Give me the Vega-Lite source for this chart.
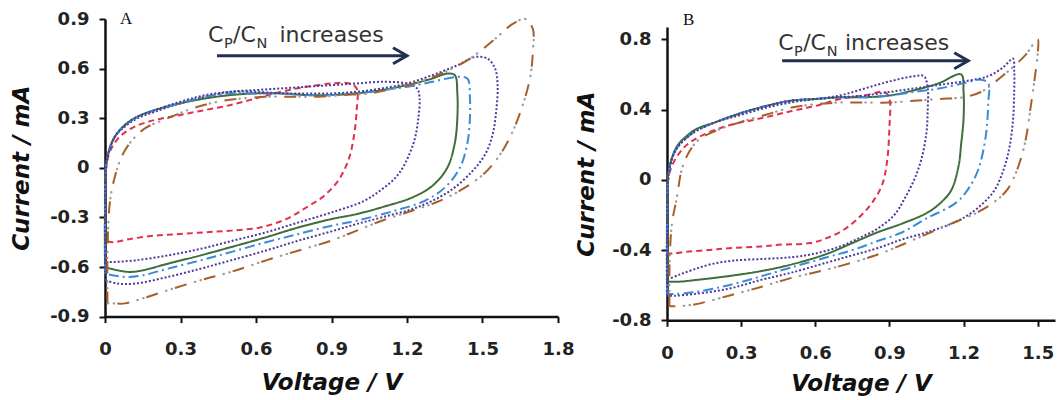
{
"$schema": "https://vega.github.io/schema/vega-lite/v6.json",
"background": "white",
"padding": {"left": 10, "top": 9, "right": 2, "bottom": 2},
"spacing": 1,
"config": {
  "view": {"stroke": null},
  "axis": {"grid": false, "domainColor": "#111", "domainWidth": 2.5, "tickColor": "#111", "tickWidth": 2, "tickSize": 6,
    "labelFont": "DejaVu Sans", "labelFontWeight": "bold", "labelFontSize": 18, "labelColor": "#222", "labelFlush": false, "labelOverlap": false,
    "titleFont": "DejaVu Sans", "titleFontWeight": "bold", "titleFontStyle": "italic", "titleFontSize": 23, "titleColor": "#111"},
  "axisX": {"labelPadding": 18, "titlePadding": 13},
  "axisY": {"labelPadding": 10, "titlePadding": 16}
},
"datasets": {
"curves": [
{"p":"A","s":"r","o":1,"v":0,"i":-0.44},{"p":"A","s":"r","o":2,"v":0,"i":-0.2},{"p":"A","s":"r","o":3,"v":0.005,"i":0},{"p":"A","s":"r","o":4,"v":0.02,"i":0.1},{"p":"A","s":"r","o":5,"v":0.06,"i":0.19},{"p":"A","s":"r","o":6,"v":0.12,"i":0.25},{"p":"A","s":"r","o":7,"v":0.2,"i":0.29},{"p":"A","s":"r","o":8,"v":0.3,"i":0.32},{"p":"A","s":"r","o":9,"v":0.4,"i":0.35},{"p":"A","s":"r","o":10,"v":0.5,"i":0.38},{"p":"A","s":"r","o":11,"v":0.6,"i":0.42},{"p":"A","s":"r","o":12,"v":0.7,"i":0.46},{"p":"A","s":"r","o":13,"v":0.8,"i":0.49},{"p":"A","s":"r","o":14,"v":0.9,"i":0.51},{"p":"A","s":"r","o":15,"v":0.97,"i":0.51},{"p":"A","s":"r","o":16,"v":1.0,"i":0.48},{"p":"A","s":"r","o":17,"v":1.0,"i":0.35},{"p":"A","s":"r","o":18,"v":0.99,"i":0.2},{"p":"A","s":"r","o":19,"v":0.97,"i":0.06},{"p":"A","s":"r","o":20,"v":0.93,"i":-0.07},{"p":"A","s":"r","o":21,"v":0.87,"i":-0.17},{"p":"A","s":"r","o":22,"v":0.8,"i":-0.24},{"p":"A","s":"r","o":23,"v":0.72,"i":-0.31},{"p":"A","s":"r","o":24,"v":0.62,"i":-0.36},{"p":"A","s":"r","o":25,"v":0.5,"i":-0.38},{"p":"A","s":"r","o":26,"v":0.4,"i":-0.39},{"p":"A","s":"r","o":27,"v":0.3,"i":-0.4},{"p":"A","s":"r","o":28,"v":0.2,"i":-0.41},{"p":"A","s":"r","o":29,"v":0.1,"i":-0.43},{"p":"A","s":"r","o":30,"v":0.03,"i":-0.45},{"p":"A","s":"r","o":31,"v":0,"i":-0.44},
{"p":"A","s":"p1","o":1,"v":0,"i":-0.57},{"p":"A","s":"p1","o":2,"v":0,"i":-0.3},{"p":"A","s":"p1","o":3,"v":0.003,"i":0},{"p":"A","s":"p1","o":4,"v":0.015,"i":0.1},{"p":"A","s":"p1","o":5,"v":0.04,"i":0.19},{"p":"A","s":"p1","o":6,"v":0.08,"i":0.25},{"p":"A","s":"p1","o":7,"v":0.13,"i":0.3},{"p":"A","s":"p1","o":8,"v":0.2,"i":0.34},{"p":"A","s":"p1","o":9,"v":0.3,"i":0.39},{"p":"A","s":"p1","o":10,"v":0.4,"i":0.43},{"p":"A","s":"p1","o":11,"v":0.5,"i":0.46},{"p":"A","s":"p1","o":12,"v":0.6,"i":0.47},{"p":"A","s":"p1","o":13,"v":0.7,"i":0.48},{"p":"A","s":"p1","o":14,"v":0.8,"i":0.49},{"p":"A","s":"p1","o":15,"v":0.9,"i":0.5},{"p":"A","s":"p1","o":16,"v":1.0,"i":0.51},{"p":"A","s":"p1","o":17,"v":1.1,"i":0.52},{"p":"A","s":"p1","o":18,"v":1.2,"i":0.51},{"p":"A","s":"p1","o":19,"v":1.24,"i":0.48},{"p":"A","s":"p1","o":20,"v":1.25,"i":0.42},{"p":"A","s":"p1","o":21,"v":1.245,"i":0.3},{"p":"A","s":"p1","o":22,"v":1.23,"i":0.17},{"p":"A","s":"p1","o":23,"v":1.2,"i":0.05},{"p":"A","s":"p1","o":24,"v":1.16,"i":-0.05},{"p":"A","s":"p1","o":25,"v":1.1,"i":-0.13},{"p":"A","s":"p1","o":26,"v":1.03,"i":-0.2},{"p":"A","s":"p1","o":27,"v":0.9,"i":-0.27},{"p":"A","s":"p1","o":28,"v":0.77,"i":-0.33},{"p":"A","s":"p1","o":29,"v":0.64,"i":-0.39},{"p":"A","s":"p1","o":30,"v":0.51,"i":-0.44},{"p":"A","s":"p1","o":31,"v":0.38,"i":-0.49},{"p":"A","s":"p1","o":32,"v":0.25,"i":-0.53},{"p":"A","s":"p1","o":33,"v":0.12,"i":-0.56},{"p":"A","s":"p1","o":34,"v":0.03,"i":-0.57},{"p":"A","s":"p1","o":35,"v":0,"i":-0.57},
{"p":"A","s":"g","o":1,"v":0,"i":-0.6},{"p":"A","s":"g","o":2,"v":0,"i":-0.3},{"p":"A","s":"g","o":3,"v":0.003,"i":0},{"p":"A","s":"g","o":4,"v":0.015,"i":0.1},{"p":"A","s":"g","o":5,"v":0.04,"i":0.19},{"p":"A","s":"g","o":6,"v":0.08,"i":0.26},{"p":"A","s":"g","o":7,"v":0.13,"i":0.31},{"p":"A","s":"g","o":8,"v":0.2,"i":0.35},{"p":"A","s":"g","o":9,"v":0.3,"i":0.39},{"p":"A","s":"g","o":10,"v":0.4,"i":0.42},{"p":"A","s":"g","o":11,"v":0.5,"i":0.44},{"p":"A","s":"g","o":12,"v":0.6,"i":0.45},{"p":"A","s":"g","o":13,"v":0.7,"i":0.45},{"p":"A","s":"g","o":14,"v":0.8,"i":0.44},{"p":"A","s":"g","o":15,"v":0.9,"i":0.44},{"p":"A","s":"g","o":16,"v":1.0,"i":0.45},{"p":"A","s":"g","o":17,"v":1.1,"i":0.47},{"p":"A","s":"g","o":18,"v":1.2,"i":0.5},{"p":"A","s":"g","o":19,"v":1.3,"i":0.54},{"p":"A","s":"g","o":20,"v":1.36,"i":0.57},{"p":"A","s":"g","o":21,"v":1.39,"i":0.56},{"p":"A","s":"g","o":22,"v":1.4,"i":0.45},{"p":"A","s":"g","o":23,"v":1.4,"i":0.3},{"p":"A","s":"g","o":24,"v":1.39,"i":0.15},{"p":"A","s":"g","o":25,"v":1.36,"i":0},{"p":"A","s":"g","o":26,"v":1.3,"i":-0.11},{"p":"A","s":"g","o":27,"v":1.22,"i":-0.18},{"p":"A","s":"g","o":28,"v":1.12,"i":-0.23},{"p":"A","s":"g","o":29,"v":1.0,"i":-0.28},{"p":"A","s":"g","o":30,"v":0.9,"i":-0.31},{"p":"A","s":"g","o":31,"v":0.77,"i":-0.36},{"p":"A","s":"g","o":32,"v":0.64,"i":-0.42},{"p":"A","s":"g","o":33,"v":0.5,"i":-0.48},{"p":"A","s":"g","o":34,"v":0.38,"i":-0.53},{"p":"A","s":"g","o":35,"v":0.25,"i":-0.58},{"p":"A","s":"g","o":36,"v":0.15,"i":-0.62},{"p":"A","s":"g","o":37,"v":0.1,"i":-0.63},{"p":"A","s":"g","o":38,"v":0.05,"i":-0.62},{"p":"A","s":"g","o":39,"v":0,"i":-0.6},
{"p":"A","s":"b","o":1,"v":0,"i":-0.64},{"p":"A","s":"b","o":2,"v":0,"i":-0.3},{"p":"A","s":"b","o":3,"v":0.004,"i":0},{"p":"A","s":"b","o":4,"v":0.016,"i":0.1},{"p":"A","s":"b","o":5,"v":0.04,"i":0.19},{"p":"A","s":"b","o":6,"v":0.08,"i":0.26},{"p":"A","s":"b","o":7,"v":0.13,"i":0.31},{"p":"A","s":"b","o":8,"v":0.2,"i":0.35},{"p":"A","s":"b","o":9,"v":0.3,"i":0.39},{"p":"A","s":"b","o":10,"v":0.4,"i":0.43},{"p":"A","s":"b","o":11,"v":0.5,"i":0.45},{"p":"A","s":"b","o":12,"v":0.6,"i":0.45},{"p":"A","s":"b","o":13,"v":0.7,"i":0.45},{"p":"A","s":"b","o":14,"v":0.8,"i":0.44},{"p":"A","s":"b","o":15,"v":0.9,"i":0.44},{"p":"A","s":"b","o":16,"v":1.0,"i":0.45},{"p":"A","s":"b","o":17,"v":1.1,"i":0.47},{"p":"A","s":"b","o":18,"v":1.2,"i":0.49},{"p":"A","s":"b","o":19,"v":1.3,"i":0.52},{"p":"A","s":"b","o":20,"v":1.4,"i":0.55},{"p":"A","s":"b","o":21,"v":1.44,"i":0.54},{"p":"A","s":"b","o":22,"v":1.45,"i":0.42},{"p":"A","s":"b","o":23,"v":1.45,"i":0.3},{"p":"A","s":"b","o":24,"v":1.44,"i":0.15},{"p":"A","s":"b","o":25,"v":1.41,"i":0},{"p":"A","s":"b","o":26,"v":1.35,"i":-0.12},{"p":"A","s":"b","o":27,"v":1.27,"i":-0.2},{"p":"A","s":"b","o":28,"v":1.15,"i":-0.26},{"p":"A","s":"b","o":29,"v":1.0,"i":-0.32},{"p":"A","s":"b","o":30,"v":0.9,"i":-0.35},{"p":"A","s":"b","o":31,"v":0.77,"i":-0.4},{"p":"A","s":"b","o":32,"v":0.64,"i":-0.45},{"p":"A","s":"b","o":33,"v":0.5,"i":-0.51},{"p":"A","s":"b","o":34,"v":0.38,"i":-0.56},{"p":"A","s":"b","o":35,"v":0.25,"i":-0.61},{"p":"A","s":"b","o":36,"v":0.15,"i":-0.65},{"p":"A","s":"b","o":37,"v":0.08,"i":-0.66},{"p":"A","s":"b","o":38,"v":0.03,"i":-0.65},{"p":"A","s":"b","o":39,"v":0,"i":-0.64},
{"p":"A","s":"p2","o":1,"v":0,"i":-0.68},{"p":"A","s":"p2","o":2,"v":0,"i":-0.3},{"p":"A","s":"p2","o":3,"v":0.004,"i":0},{"p":"A","s":"p2","o":4,"v":0.016,"i":0.1},{"p":"A","s":"p2","o":5,"v":0.04,"i":0.19},{"p":"A","s":"p2","o":6,"v":0.08,"i":0.26},{"p":"A","s":"p2","o":7,"v":0.13,"i":0.31},{"p":"A","s":"p2","o":8,"v":0.2,"i":0.35},{"p":"A","s":"p2","o":9,"v":0.3,"i":0.4},{"p":"A","s":"p2","o":10,"v":0.4,"i":0.44},{"p":"A","s":"p2","o":11,"v":0.5,"i":0.46},{"p":"A","s":"p2","o":12,"v":0.6,"i":0.46},{"p":"A","s":"p2","o":13,"v":0.7,"i":0.45},{"p":"A","s":"p2","o":14,"v":0.8,"i":0.45},{"p":"A","s":"p2","o":15,"v":0.9,"i":0.45},{"p":"A","s":"p2","o":16,"v":1.0,"i":0.46},{"p":"A","s":"p2","o":17,"v":1.1,"i":0.48},{"p":"A","s":"p2","o":18,"v":1.2,"i":0.51},{"p":"A","s":"p2","o":19,"v":1.3,"i":0.56},{"p":"A","s":"p2","o":20,"v":1.4,"i":0.62},{"p":"A","s":"p2","o":21,"v":1.47,"i":0.67},{"p":"A","s":"p2","o":22,"v":1.52,"i":0.66},{"p":"A","s":"p2","o":23,"v":1.55,"i":0.6},{"p":"A","s":"p2","o":24,"v":1.56,"i":0.5},{"p":"A","s":"p2","o":25,"v":1.555,"i":0.35},{"p":"A","s":"p2","o":26,"v":1.54,"i":0.2},{"p":"A","s":"p2","o":27,"v":1.51,"i":0.08},{"p":"A","s":"p2","o":28,"v":1.46,"i":-0.02},{"p":"A","s":"p2","o":29,"v":1.38,"i":-0.13},{"p":"A","s":"p2","o":30,"v":1.3,"i":-0.2},{"p":"A","s":"p2","o":31,"v":1.22,"i":-0.25},{"p":"A","s":"p2","o":32,"v":1.1,"i":-0.3},{"p":"A","s":"p2","o":33,"v":1.0,"i":-0.34},{"p":"A","s":"p2","o":34,"v":0.91,"i":-0.38},{"p":"A","s":"p2","o":35,"v":0.77,"i":-0.44},{"p":"A","s":"p2","o":36,"v":0.64,"i":-0.5},{"p":"A","s":"p2","o":37,"v":0.5,"i":-0.56},{"p":"A","s":"p2","o":38,"v":0.38,"i":-0.61},{"p":"A","s":"p2","o":39,"v":0.25,"i":-0.66},{"p":"A","s":"p2","o":40,"v":0.12,"i":-0.7},{"p":"A","s":"p2","o":41,"v":0.05,"i":-0.7},{"p":"A","s":"p2","o":42,"v":0,"i":-0.68},
{"p":"A","s":"br","o":1,"v":0.01,"i":-0.82},{"p":"A","s":"br","o":2,"v":0.01,"i":-0.5},{"p":"A","s":"br","o":3,"v":0.02,"i":-0.2},{"p":"A","s":"br","o":4,"v":0.04,"i":-0.05},{"p":"A","s":"br","o":5,"v":0.07,"i":0.08},{"p":"A","s":"br","o":6,"v":0.11,"i":0.17},{"p":"A","s":"br","o":7,"v":0.16,"i":0.24},{"p":"A","s":"br","o":8,"v":0.25,"i":0.3},{"p":"A","s":"br","o":9,"v":0.35,"i":0.36},{"p":"A","s":"br","o":10,"v":0.45,"i":0.4},{"p":"A","s":"br","o":11,"v":0.55,"i":0.42},{"p":"A","s":"br","o":12,"v":0.65,"i":0.43},{"p":"A","s":"br","o":13,"v":0.75,"i":0.43},{"p":"A","s":"br","o":14,"v":0.85,"i":0.43},{"p":"A","s":"br","o":15,"v":0.95,"i":0.44},{"p":"A","s":"br","o":16,"v":1.05,"i":0.45},{"p":"A","s":"br","o":17,"v":1.15,"i":0.48},{"p":"A","s":"br","o":18,"v":1.25,"i":0.52},{"p":"A","s":"br","o":19,"v":1.35,"i":0.58},{"p":"A","s":"br","o":20,"v":1.45,"i":0.66},{"p":"A","s":"br","o":21,"v":1.55,"i":0.78},{"p":"A","s":"br","o":22,"v":1.62,"i":0.87},{"p":"A","s":"br","o":23,"v":1.67,"i":0.9},{"p":"A","s":"br","o":24,"v":1.7,"i":0.84},{"p":"A","s":"br","o":25,"v":1.7,"i":0.7},{"p":"A","s":"br","o":26,"v":1.69,"i":0.55},{"p":"A","s":"br","o":27,"v":1.66,"i":0.38},{"p":"A","s":"br","o":28,"v":1.62,"i":0.22},{"p":"A","s":"br","o":29,"v":1.57,"i":0.08},{"p":"A","s":"br","o":30,"v":1.51,"i":-0.03},{"p":"A","s":"br","o":31,"v":1.43,"i":-0.12},{"p":"A","s":"br","o":32,"v":1.33,"i":-0.2},{"p":"A","s":"br","o":33,"v":1.22,"i":-0.26},{"p":"A","s":"br","o":34,"v":1.1,"i":-0.32},{"p":"A","s":"br","o":35,"v":1.0,"i":-0.38},{"p":"A","s":"br","o":36,"v":0.9,"i":-0.44},{"p":"A","s":"br","o":37,"v":0.77,"i":-0.5},{"p":"A","s":"br","o":38,"v":0.64,"i":-0.56},{"p":"A","s":"br","o":39,"v":0.5,"i":-0.63},{"p":"A","s":"br","o":40,"v":0.38,"i":-0.68},{"p":"A","s":"br","o":41,"v":0.25,"i":-0.74},{"p":"A","s":"br","o":42,"v":0.15,"i":-0.79},{"p":"A","s":"br","o":43,"v":0.08,"i":-0.82},{"p":"A","s":"br","o":44,"v":0.03,"i":-0.82},{"p":"A","s":"br","o":45,"v":0.01,"i":-0.82},
{"p":"B","s":"r","o":1,"v":0,"i":-0.42},{"p":"B","s":"r","o":2,"v":0,"i":-0.2},{"p":"B","s":"r","o":3,"v":0.005,"i":0},{"p":"B","s":"r","o":4,"v":0.02,"i":0.08},{"p":"B","s":"r","o":5,"v":0.06,"i":0.17},{"p":"B","s":"r","o":6,"v":0.1,"i":0.22},{"p":"B","s":"r","o":7,"v":0.17,"i":0.27},{"p":"B","s":"r","o":8,"v":0.25,"i":0.31},{"p":"B","s":"r","o":9,"v":0.38,"i":0.35},{"p":"B","s":"r","o":10,"v":0.5,"i":0.39},{"p":"B","s":"r","o":11,"v":0.6,"i":0.42},{"p":"B","s":"r","o":12,"v":0.7,"i":0.46},{"p":"B","s":"r","o":13,"v":0.8,"i":0.48},{"p":"B","s":"r","o":14,"v":0.88,"i":0.5},{"p":"B","s":"r","o":15,"v":0.9,"i":0.46},{"p":"B","s":"r","o":16,"v":0.9,"i":0.3},{"p":"B","s":"r","o":17,"v":0.89,"i":0.1},{"p":"B","s":"r","o":18,"v":0.87,"i":-0.03},{"p":"B","s":"r","o":19,"v":0.83,"i":-0.13},{"p":"B","s":"r","o":20,"v":0.78,"i":-0.21},{"p":"B","s":"r","o":21,"v":0.72,"i":-0.28},{"p":"B","s":"r","o":22,"v":0.65,"i":-0.33},{"p":"B","s":"r","o":23,"v":0.58,"i":-0.36},{"p":"B","s":"r","o":24,"v":0.45,"i":-0.37},{"p":"B","s":"r","o":25,"v":0.38,"i":-0.38},{"p":"B","s":"r","o":26,"v":0.25,"i":-0.39},{"p":"B","s":"r","o":27,"v":0.17,"i":-0.4},{"p":"B","s":"r","o":28,"v":0.08,"i":-0.41},{"p":"B","s":"r","o":29,"v":0.02,"i":-0.42},{"p":"B","s":"r","o":30,"v":0,"i":-0.42},
{"p":"B","s":"p1","o":1,"v":0,"i":-0.57},{"p":"B","s":"p1","o":2,"v":0,"i":-0.3},{"p":"B","s":"p1","o":3,"v":0.003,"i":0},{"p":"B","s":"p1","o":4,"v":0.015,"i":0.1},{"p":"B","s":"p1","o":5,"v":0.04,"i":0.18},{"p":"B","s":"p1","o":6,"v":0.08,"i":0.24},{"p":"B","s":"p1","o":7,"v":0.12,"i":0.28},{"p":"B","s":"p1","o":8,"v":0.2,"i":0.33},{"p":"B","s":"p1","o":9,"v":0.3,"i":0.37},{"p":"B","s":"p1","o":10,"v":0.4,"i":0.41},{"p":"B","s":"p1","o":11,"v":0.5,"i":0.44},{"p":"B","s":"p1","o":12,"v":0.6,"i":0.46},{"p":"B","s":"p1","o":13,"v":0.7,"i":0.48},{"p":"B","s":"p1","o":14,"v":0.8,"i":0.52},{"p":"B","s":"p1","o":15,"v":0.9,"i":0.56},{"p":"B","s":"p1","o":16,"v":1.0,"i":0.59},{"p":"B","s":"p1","o":17,"v":1.04,"i":0.59},{"p":"B","s":"p1","o":18,"v":1.055,"i":0.52},{"p":"B","s":"p1","o":19,"v":1.055,"i":0.4},{"p":"B","s":"p1","o":20,"v":1.05,"i":0.27},{"p":"B","s":"p1","o":21,"v":1.03,"i":0.12},{"p":"B","s":"p1","o":22,"v":1.0,"i":0},{"p":"B","s":"p1","o":23,"v":0.96,"i":-0.11},{"p":"B","s":"p1","o":24,"v":0.92,"i":-0.2},{"p":"B","s":"p1","o":25,"v":0.85,"i":-0.28},{"p":"B","s":"p1","o":26,"v":0.78,"i":-0.33},{"p":"B","s":"p1","o":27,"v":0.7,"i":-0.38},{"p":"B","s":"p1","o":28,"v":0.6,"i":-0.42},{"p":"B","s":"p1","o":29,"v":0.51,"i":-0.44},{"p":"B","s":"p1","o":30,"v":0.4,"i":-0.45},{"p":"B","s":"p1","o":31,"v":0.27,"i":-0.46},{"p":"B","s":"p1","o":32,"v":0.18,"i":-0.48},{"p":"B","s":"p1","o":33,"v":0.11,"i":-0.51},{"p":"B","s":"p1","o":34,"v":0.05,"i":-0.54},{"p":"B","s":"p1","o":35,"v":0,"i":-0.57},
{"p":"B","s":"g","o":1,"v":0,"i":-0.58},{"p":"B","s":"g","o":2,"v":0,"i":-0.3},{"p":"B","s":"g","o":3,"v":0.003,"i":0},{"p":"B","s":"g","o":4,"v":0.015,"i":0.1},{"p":"B","s":"g","o":5,"v":0.04,"i":0.19},{"p":"B","s":"g","o":6,"v":0.08,"i":0.25},{"p":"B","s":"g","o":7,"v":0.12,"i":0.29},{"p":"B","s":"g","o":8,"v":0.2,"i":0.33},{"p":"B","s":"g","o":9,"v":0.3,"i":0.38},{"p":"B","s":"g","o":10,"v":0.4,"i":0.42},{"p":"B","s":"g","o":11,"v":0.5,"i":0.45},{"p":"B","s":"g","o":12,"v":0.6,"i":0.46},{"p":"B","s":"g","o":13,"v":0.7,"i":0.47},{"p":"B","s":"g","o":14,"v":0.8,"i":0.47},{"p":"B","s":"g","o":15,"v":0.9,"i":0.48},{"p":"B","s":"g","o":16,"v":1.0,"i":0.51},{"p":"B","s":"g","o":17,"v":1.1,"i":0.55},{"p":"B","s":"g","o":18,"v":1.19,"i":0.6},{"p":"B","s":"g","o":19,"v":1.2,"i":0.5},{"p":"B","s":"g","o":20,"v":1.2,"i":0.35},{"p":"B","s":"g","o":21,"v":1.19,"i":0.2},{"p":"B","s":"g","o":22,"v":1.18,"i":0.08},{"p":"B","s":"g","o":23,"v":1.15,"i":-0.06},{"p":"B","s":"g","o":24,"v":1.1,"i":-0.14},{"p":"B","s":"g","o":25,"v":1.05,"i":-0.19},{"p":"B","s":"g","o":26,"v":0.95,"i":-0.25},{"p":"B","s":"g","o":27,"v":0.85,"i":-0.3},{"p":"B","s":"g","o":28,"v":0.75,"i":-0.36},{"p":"B","s":"g","o":29,"v":0.65,"i":-0.42},{"p":"B","s":"g","o":30,"v":0.51,"i":-0.48},{"p":"B","s":"g","o":31,"v":0.38,"i":-0.52},{"p":"B","s":"g","o":32,"v":0.24,"i":-0.55},{"p":"B","s":"g","o":33,"v":0.12,"i":-0.57},{"p":"B","s":"g","o":34,"v":0.05,"i":-0.58},{"p":"B","s":"g","o":35,"v":0,"i":-0.58},
{"p":"B","s":"b","o":1,"v":0,"i":-0.65},{"p":"B","s":"b","o":2,"v":0,"i":-0.3},{"p":"B","s":"b","o":3,"v":0.004,"i":0},{"p":"B","s":"b","o":4,"v":0.016,"i":0.1},{"p":"B","s":"b","o":5,"v":0.04,"i":0.18},{"p":"B","s":"b","o":6,"v":0.08,"i":0.24},{"p":"B","s":"b","o":7,"v":0.12,"i":0.28},{"p":"B","s":"b","o":8,"v":0.2,"i":0.33},{"p":"B","s":"b","o":9,"v":0.3,"i":0.38},{"p":"B","s":"b","o":10,"v":0.4,"i":0.42},{"p":"B","s":"b","o":11,"v":0.5,"i":0.45},{"p":"B","s":"b","o":12,"v":0.6,"i":0.46},{"p":"B","s":"b","o":13,"v":0.7,"i":0.47},{"p":"B","s":"b","o":14,"v":0.8,"i":0.47},{"p":"B","s":"b","o":15,"v":0.9,"i":0.48},{"p":"B","s":"b","o":16,"v":1.0,"i":0.5},{"p":"B","s":"b","o":17,"v":1.1,"i":0.52},{"p":"B","s":"b","o":18,"v":1.2,"i":0.55},{"p":"B","s":"b","o":19,"v":1.27,"i":0.57},{"p":"B","s":"b","o":20,"v":1.3,"i":0.55},{"p":"B","s":"b","o":21,"v":1.3,"i":0.44},{"p":"B","s":"b","o":22,"v":1.29,"i":0.25},{"p":"B","s":"b","o":23,"v":1.26,"i":0.06},{"p":"B","s":"b","o":24,"v":1.22,"i":-0.05},{"p":"B","s":"b","o":25,"v":1.17,"i":-0.13},{"p":"B","s":"b","o":26,"v":1.05,"i":-0.22},{"p":"B","s":"b","o":27,"v":0.95,"i":-0.3},{"p":"B","s":"b","o":28,"v":0.85,"i":-0.35},{"p":"B","s":"b","o":29,"v":0.75,"i":-0.4},{"p":"B","s":"b","o":30,"v":0.65,"i":-0.44},{"p":"B","s":"b","o":31,"v":0.5,"i":-0.5},{"p":"B","s":"b","o":32,"v":0.38,"i":-0.55},{"p":"B","s":"b","o":33,"v":0.25,"i":-0.6},{"p":"B","s":"b","o":34,"v":0.11,"i":-0.64},{"p":"B","s":"b","o":35,"v":0.03,"i":-0.65},{"p":"B","s":"b","o":36,"v":0,"i":-0.65},
{"p":"B","s":"p2","o":1,"v":0,"i":-0.66},{"p":"B","s":"p2","o":2,"v":0,"i":-0.3},{"p":"B","s":"p2","o":3,"v":0.004,"i":0},{"p":"B","s":"p2","o":4,"v":0.016,"i":0.1},{"p":"B","s":"p2","o":5,"v":0.04,"i":0.18},{"p":"B","s":"p2","o":6,"v":0.08,"i":0.24},{"p":"B","s":"p2","o":7,"v":0.12,"i":0.28},{"p":"B","s":"p2","o":8,"v":0.2,"i":0.33},{"p":"B","s":"p2","o":9,"v":0.3,"i":0.38},{"p":"B","s":"p2","o":10,"v":0.4,"i":0.42},{"p":"B","s":"p2","o":11,"v":0.5,"i":0.45},{"p":"B","s":"p2","o":12,"v":0.6,"i":0.46},{"p":"B","s":"p2","o":13,"v":0.7,"i":0.47},{"p":"B","s":"p2","o":14,"v":0.8,"i":0.48},{"p":"B","s":"p2","o":15,"v":0.9,"i":0.5},{"p":"B","s":"p2","o":16,"v":1.0,"i":0.52},{"p":"B","s":"p2","o":17,"v":1.1,"i":0.54},{"p":"B","s":"p2","o":18,"v":1.2,"i":0.56},{"p":"B","s":"p2","o":19,"v":1.3,"i":0.59},{"p":"B","s":"p2","o":20,"v":1.36,"i":0.64},{"p":"B","s":"p2","o":21,"v":1.4,"i":0.69},{"p":"B","s":"p2","o":22,"v":1.405,"i":0.62},{"p":"B","s":"p2","o":23,"v":1.405,"i":0.5},{"p":"B","s":"p2","o":24,"v":1.4,"i":0.34},{"p":"B","s":"p2","o":25,"v":1.385,"i":0.18},{"p":"B","s":"p2","o":26,"v":1.36,"i":0.05},{"p":"B","s":"p2","o":27,"v":1.32,"i":-0.07},{"p":"B","s":"p2","o":28,"v":1.23,"i":-0.19},{"p":"B","s":"p2","o":29,"v":1.15,"i":-0.25},{"p":"B","s":"p2","o":30,"v":1.05,"i":-0.3},{"p":"B","s":"p2","o":31,"v":0.95,"i":-0.34},{"p":"B","s":"p2","o":32,"v":0.85,"i":-0.39},{"p":"B","s":"p2","o":33,"v":0.75,"i":-0.43},{"p":"B","s":"p2","o":34,"v":0.65,"i":-0.47},{"p":"B","s":"p2","o":35,"v":0.5,"i":-0.53},{"p":"B","s":"p2","o":36,"v":0.38,"i":-0.57},{"p":"B","s":"p2","o":37,"v":0.25,"i":-0.62},{"p":"B","s":"p2","o":38,"v":0.11,"i":-0.65},{"p":"B","s":"p2","o":39,"v":0.03,"i":-0.66},{"p":"B","s":"p2","o":40,"v":0,"i":-0.66},
{"p":"B","s":"br","o":1,"v":0.01,"i":-0.72},{"p":"B","s":"br","o":2,"v":0.01,"i":-0.5},{"p":"B","s":"br","o":3,"v":0.02,"i":-0.25},{"p":"B","s":"br","o":4,"v":0.04,"i":-0.1},{"p":"B","s":"br","o":5,"v":0.06,"i":0.06},{"p":"B","s":"br","o":6,"v":0.09,"i":0.16},{"p":"B","s":"br","o":7,"v":0.13,"i":0.23},{"p":"B","s":"br","o":8,"v":0.2,"i":0.28},{"p":"B","s":"br","o":9,"v":0.3,"i":0.33},{"p":"B","s":"br","o":10,"v":0.4,"i":0.37},{"p":"B","s":"br","o":11,"v":0.5,"i":0.41},{"p":"B","s":"br","o":12,"v":0.6,"i":0.43},{"p":"B","s":"br","o":13,"v":0.7,"i":0.44},{"p":"B","s":"br","o":14,"v":0.8,"i":0.44},{"p":"B","s":"br","o":15,"v":0.9,"i":0.44},{"p":"B","s":"br","o":16,"v":1.0,"i":0.45},{"p":"B","s":"br","o":17,"v":1.1,"i":0.46},{"p":"B","s":"br","o":18,"v":1.2,"i":0.47},{"p":"B","s":"br","o":19,"v":1.27,"i":0.5},{"p":"B","s":"br","o":20,"v":1.33,"i":0.56},{"p":"B","s":"br","o":21,"v":1.39,"i":0.63},{"p":"B","s":"br","o":22,"v":1.45,"i":0.71},{"p":"B","s":"br","o":23,"v":1.5,"i":0.8},{"p":"B","s":"br","o":24,"v":1.5,"i":0.72},{"p":"B","s":"br","o":25,"v":1.49,"i":0.6},{"p":"B","s":"br","o":26,"v":1.47,"i":0.4},{"p":"B","s":"br","o":27,"v":1.45,"i":0.22},{"p":"B","s":"br","o":28,"v":1.42,"i":0.07},{"p":"B","s":"br","o":29,"v":1.38,"i":-0.05},{"p":"B","s":"br","o":30,"v":1.33,"i":-0.12},{"p":"B","s":"br","o":31,"v":1.25,"i":-0.19},{"p":"B","s":"br","o":32,"v":1.15,"i":-0.25},{"p":"B","s":"br","o":33,"v":1.0,"i":-0.34},{"p":"B","s":"br","o":34,"v":0.9,"i":-0.4},{"p":"B","s":"br","o":35,"v":0.8,"i":-0.45},{"p":"B","s":"br","o":36,"v":0.65,"i":-0.51},{"p":"B","s":"br","o":37,"v":0.5,"i":-0.56},{"p":"B","s":"br","o":38,"v":0.38,"i":-0.61},{"p":"B","s":"br","o":39,"v":0.25,"i":-0.66},{"p":"B","s":"br","o":40,"v":0.11,"i":-0.71},{"p":"B","s":"br","o":41,"v":0.04,"i":-0.72},{"p":"B","s":"br","o":42,"v":0.01,"i":-0.72}
],
"ann": [
{"p":"A","k":"m","t":"C","v":0.409,"i":0.762},{"p":"A","k":"s","t":"P","v":0.473,"i":0.726},{"p":"A","k":"m","t":"/C","v":0.509,"i":0.762},{"p":"A","k":"s","t":"N","v":0.602,"i":0.726},{"p":"A","k":"m","t":"increases","v":0.693,"i":0.762},
{"p":"A","k":"l","t":"A","v":0.06,"i":0.871},
{"p":"B","k":"m","t":"C","v":0.45,"i":0.74},{"p":"B","k":"s","t":"P","v":0.514,"i":0.706},{"p":"B","k":"m","t":"/C","v":0.551,"i":0.74},{"p":"B","k":"s","t":"N","v":0.646,"i":0.706},{"p":"B","k":"m","t":"increases","v":0.72,"i":0.74},
{"p":"B","k":"l","t":"B","v":0.065,"i":0.883}
],
"arrows": [
{"p":"A","v":0.445,"v2":1.2,"i":0.678},
{"p":"B","v":0.466,"v2":1.219,"i":0.678}
]
},
"hconcat": [
{
"width": 453, "height": 297.6,
"layer": [
{"data": {"name": "curves"}, "transform": [{"filter": "datum.p === 'A'"}],
 "mark": {"type": "line", "strokeWidth": 2, "interpolate": "catmull-rom"},
 "encoding": {
  "x": {"field": "v", "type": "quantitative", "scale": {"domain": [0, 1.8], "nice": false, "zero": false},
        "axis": {"title": "Voltage / V", "values": [0, 0.3, 0.6, 0.9, 1.2, 1.5, 1.8], "labelExpr": "datum.value < 0 ? '-' + format(-datum.value, '~g') : format(datum.value, '~g')"}},
  "y": {"field": "i", "type": "quantitative", "scale": {"domain": [-0.9, 0.9], "nice": false, "zero": false},
        "axis": {"title": "Current / mA", "values": [-0.9, -0.6, -0.3, 0, 0.3, 0.6, 0.9], "labelExpr": "datum.value < 0 ? '-' + format(-datum.value, '~g') : format(datum.value, '~g')"}},
  "order": {"field": "o", "type": "quantitative"},
  "color": {"field": "s", "type": "nominal", "scale": {"domain": ["r", "p1", "g", "b", "p2", "br"], "range": ["#e0304d", "#4d3a9e", "#3f6e3a", "#3b8bd4", "#4d3a9e", "#a65f2c"]}, "legend": null},
  "strokeDash": {"field": "s", "type": "nominal", "scale": {"domain": ["r", "p1", "g", "b", "p2", "br"], "range": [[6, 4], [2, 2], [1, 0], [10, 4, 2, 4], [2, 2], [12, 18]]}, "legend": null}
 }},
{"data": {"name": "curves"}, "transform": [{"filter": "datum.p === 'A' && datum.s === 'br'"}],
 "mark": {"type": "line", "strokeWidth": 2.2, "color": "#9c9c9c", "strokeDash": [0.5, 5.5, 0.5, 23.5], "strokeDashOffset": 15, "strokeCap": "round", "interpolate": "catmull-rom"},
 "encoding": {"x": {"field": "v", "type": "quantitative"}, "y": {"field": "i", "type": "quantitative"}, "order": {"field": "o", "type": "quantitative"}}},
{"data": {"name": "arrows"}, "transform": [{"filter": "datum.p === 'A'"}],
 "mark": {"type": "rule", "color": "#1f3050", "strokeWidth": 3},
 "encoding": {"x": {"field": "v", "type": "quantitative"}, "x2": {"field": "v2"}, "y": {"field": "i", "type": "quantitative"}}},
{"data": {"name": "arrows"}, "transform": [{"filter": "datum.p === 'A'"}],
 "mark": {"type": "point", "shape": "M-1,-0.57L0,0L-1,0.57", "filled": false, "color": "#1f3050", "strokeWidth": 3, "size": 784, "opacity": 1},
 "encoding": {"x": {"field": "v2", "type": "quantitative"}, "y": {"field": "i", "type": "quantitative"}}},
{"data": {"name": "ann"}, "transform": [{"filter": "datum.p === 'A' && datum.k === 'm'"}],
 "mark": {"type": "text", "align": "left", "baseline": "alphabetic", "font": "DejaVu Sans", "fontSize": 22, "color": "#333"},
 "encoding": {"x": {"field": "v", "type": "quantitative"}, "y": {"field": "i", "type": "quantitative"}, "text": {"field": "t"}}},
{"data": {"name": "ann"}, "transform": [{"filter": "datum.p === 'A' && datum.k === 's'"}],
 "mark": {"type": "text", "align": "left", "baseline": "alphabetic", "font": "DejaVu Sans", "fontSize": 14.5, "color": "#333"},
 "encoding": {"x": {"field": "v", "type": "quantitative"}, "y": {"field": "i", "type": "quantitative"}, "text": {"field": "t"}}},
{"data": {"name": "ann"}, "transform": [{"filter": "datum.p === 'A' && datum.k === 'l'"}],
 "mark": {"type": "text", "align": "left", "baseline": "alphabetic", "font": "Liberation Serif", "fontSize": 17, "color": "#111"},
 "encoding": {"x": {"field": "v", "type": "quantitative"}, "y": {"field": "i", "type": "quantitative"}, "text": {"field": "t"}}}
]
},
{
"width": 388, "height": 301.3,
"layer": [
{"data": {"name": "curves"}, "transform": [{"filter": "datum.p === 'B'"}],
 "mark": {"type": "line", "strokeWidth": 2, "interpolate": "catmull-rom"},
 "encoding": {
  "x": {"field": "v", "type": "quantitative", "scale": {"domain": [0, 1.57], "nice": false, "zero": false},
        "axis": {"title": "Voltage / V", "titlePadding": 10, "values": [0, 0.3, 0.6, 0.9, 1.2, 1.5], "labelExpr": "datum.value < 0 ? '-' + format(-datum.value, '~g') : format(datum.value, '~g')"}},
  "y": {"field": "i", "type": "quantitative", "scale": {"domain": [-0.8, 0.87], "range": [301.3, 8], "nice": false, "zero": false},
        "axis": {"title": "Current / mA", "titlePadding": 13, "values": [-0.8, -0.4, 0, 0.4, 0.8], "labelExpr": "datum.value < 0 ? '-' + format(-datum.value, '~g') : format(datum.value, '~g')"}},
  "order": {"field": "o", "type": "quantitative"},
  "color": {"field": "s", "type": "nominal", "scale": {"domain": ["r", "p1", "g", "b", "p2", "br"], "range": ["#e0304d", "#4d3a9e", "#3f6e3a", "#3b8bd4", "#4d3a9e", "#a65f2c"]}, "legend": null},
  "strokeDash": {"field": "s", "type": "nominal", "scale": {"domain": ["r", "p1", "g", "b", "p2", "br"], "range": [[6, 4], [2, 2], [1, 0], [10, 4, 2, 4], [2, 2], [12, 18]]}, "legend": null}
 }},
{"data": {"name": "curves"}, "transform": [{"filter": "datum.p === 'B' && datum.s === 'br'"}],
 "mark": {"type": "line", "strokeWidth": 2.2, "color": "#9c9c9c", "strokeDash": [0.5, 5.5, 0.5, 23.5], "strokeDashOffset": 15, "strokeCap": "round", "interpolate": "catmull-rom"},
 "encoding": {"x": {"field": "v", "type": "quantitative"}, "y": {"field": "i", "type": "quantitative"}, "order": {"field": "o", "type": "quantitative"}}},
{"data": {"name": "arrows"}, "transform": [{"filter": "datum.p === 'B'"}],
 "mark": {"type": "rule", "color": "#1f3050", "strokeWidth": 3},
 "encoding": {"x": {"field": "v", "type": "quantitative"}, "x2": {"field": "v2"}, "y": {"field": "i", "type": "quantitative"}}},
{"data": {"name": "arrows"}, "transform": [{"filter": "datum.p === 'B'"}],
 "mark": {"type": "point", "shape": "M-1,-0.57L0,0L-1,0.57", "filled": false, "color": "#1f3050", "strokeWidth": 3, "size": 784, "opacity": 1},
 "encoding": {"x": {"field": "v2", "type": "quantitative"}, "y": {"field": "i", "type": "quantitative"}}},
{"data": {"name": "ann"}, "transform": [{"filter": "datum.p === 'B' && datum.k === 'm'"}],
 "mark": {"type": "text", "align": "left", "baseline": "alphabetic", "font": "DejaVu Sans", "fontSize": 22, "color": "#333"},
 "encoding": {"x": {"field": "v", "type": "quantitative"}, "y": {"field": "i", "type": "quantitative"}, "text": {"field": "t"}}},
{"data": {"name": "ann"}, "transform": [{"filter": "datum.p === 'B' && datum.k === 's'"}],
 "mark": {"type": "text", "align": "left", "baseline": "alphabetic", "font": "DejaVu Sans", "fontSize": 14.5, "color": "#333"},
 "encoding": {"x": {"field": "v", "type": "quantitative"}, "y": {"field": "i", "type": "quantitative"}, "text": {"field": "t"}}},
{"data": {"name": "ann"}, "transform": [{"filter": "datum.p === 'B' && datum.k === 'l'"}],
 "mark": {"type": "text", "align": "left", "baseline": "alphabetic", "font": "Liberation Serif", "fontSize": 17, "color": "#111"},
 "encoding": {"x": {"field": "v", "type": "quantitative"}, "y": {"field": "i", "type": "quantitative"}, "text": {"field": "t"}}}
]
}
]
}
